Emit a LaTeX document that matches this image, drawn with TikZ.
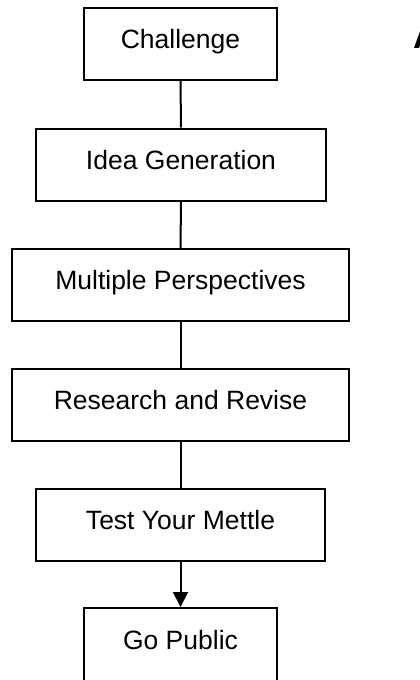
\documentclass[tikz,border=0pt]{standalone}
\usepackage{fontspec}
\setmainfont{Liberation Sans}
\usetikzlibrary{arrows.meta}

\tikzset{
  stagebox/.style={draw, line width=2pt, minimum height=72pt, inner sep=0pt,
    text height=19pt, text depth=10pt, font=\fontsize{26.5}{30}\selectfont},
  link/.style={line width=2pt}
}

\begin{document}
\begin{tikzpicture}[x=1pt,y=-1pt]
          \useasboundingbox (0,0) rectangle (420,680);
          % six boxes
          \node[stagebox, minimum width=193pt] (challenge) at (180.5,44) {Challenge};
          \node[stagebox, minimum width=290pt] (idea) at (181,164.5) {Idea Generation};
          \node[stagebox, minimum width=337pt] (persp) at (180.5,285) {Multiple Perspectives};
          \node[stagebox, minimum width=337pt] (research) at (180.5,404.5) {Research and Revise};
          \node[stagebox, minimum width=289pt] (mettle) at (180.5,524.5) {Test Your Mettle};
          \node[stagebox, minimum width=193pt, minimum height=74pt] (public) at (180.5,645) {Go Public};
          % letter cut by the right edge
          \node[anchor=base west, inner sep=0pt, font=\bfseries\fontsize{36}{40}\selectfont] (mark) at (413,48) {A};
          % five connectors
          \draw[link] (challenge) -- (idea);
          \draw[link] (idea) -- (persp);
          \draw[link] (persp) -- (research);
          \draw[link] (research) -- (mettle);
          \draw[link, -{Triangle[width=15pt,length=15pt]}] (mettle) -- (public);
        \end{tikzpicture}
\end{document}
